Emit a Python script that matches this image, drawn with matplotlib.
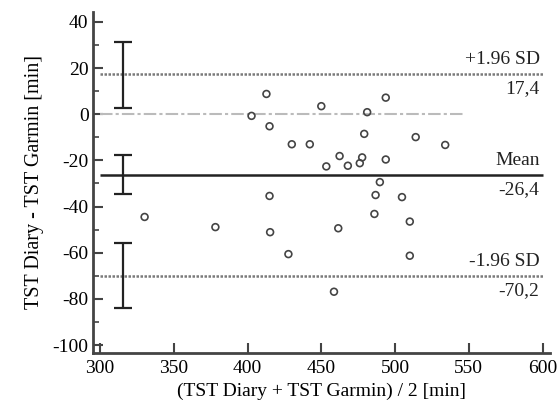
import matplotlib.pyplot as plt

# Bland-Altman data: mean of the two methods vs. difference
mean_tst = [402.7, 412.8, 414.9, 430.0, 442.2, 450.0, 453.4, 462.4, 468.0, 476.1,
            477.7, 479.1, 481.1, 414.9, 493.7, 514.0, 534.0, 493.7, 489.7, 486.8,
            504.7, 330.2, 378.2, 415.3, 427.7, 461.5, 458.6, 486.0, 510.0, 510.0]
diff_tst = [-0.7, 8.8, -5.2, -13.0, -13.0, 3.5, -22.6, -18.1, -22.3, -21.2,
            -18.7, -8.5, 0.9, -35.4, 7.2, -9.9, -13.3, -19.6, -29.4, -35.0,
            -35.9, -44.5, -48.9, -51.1, -60.6, -49.4, -76.9, -43.2, -46.5, -61.3]

bias = -26.4
upper_loa = 17.4
lower_loa = -70.2
# 95% confidence intervals of the limits
ci_x = 315.5
ci_low = [2.9, -34.7, -84.1]
ci_high = [31.4, -17.8, -55.6]

plt.rcParams['font.family'] = ['Liberation Serif', 'DejaVu Serif']
plt.rcParams['axes.unicode_minus'] = False

fig = plt.figure(figsize=(5.6, 4.13), dpi=100)
ax = fig.add_axes([0.1655, 0.145, 0.8165, 0.827])

ax.hlines(0, 300, 546, colors='#bbbbbb', linestyles=(0, (6, 1.5, 1.5, 1.5)), linewidth=1.5)
ax.hlines([upper_loa, lower_loa], 300, 600, colors='#7a7a7a', linestyles=(0, (1, 0.6)), linewidth=1.8)
ax.hlines(bias, 300, 600, colors='#222222', linewidth=1.8)

for lo, hi in zip(ci_low, ci_high):
    ax.vlines(ci_x, lo, hi, colors='#222222', linewidth=1.6)
    ax.hlines([lo, hi], ci_x - 6, ci_x + 6, colors='#222222', linewidth=1.6)

ax.scatter(mean_tst, diff_tst, s=24, facecolors='none', edgecolors='#444444', linewidths=1.2, zorder=3)

lbl = dict(ha='right', fontsize=14, color='#222222')
ax.text(598, upper_loa + 2.5, '+1.96 SD', va='bottom', **lbl)
ax.text(598, upper_loa - 2.5, '17,4', va='top', **lbl)
ax.text(598, bias + 2.5, 'Mean', va='bottom', **lbl)
ax.text(598, bias - 2.5, '-26,4', va='top', **lbl)
ax.text(598, lower_loa + 2.5, '-1.96 SD', va='bottom', **lbl)
ax.text(598, lower_loa - 2.5, '-70,2', va='top', **lbl)

ax.set_xlim(295, 605)
ax.set_ylim(-103.5, 44.5)
ax.set_xticks(range(300, 601, 50))
ax.set_yticks(range(-100, 41, 20))
ax.set_yticks(range(-90, 41, 20), minor=True)

for s in ['top', 'right']:
    ax.spines[s].set_visible(False)
for s in ['left', 'bottom']:
    ax.spines[s].set_linewidth(2)
    ax.spines[s].set_color('#444444')

ax.tick_params(which='major', direction='in', length=7, width=1.5, color='#444444', labelsize=14, pad=3)
ax.tick_params(which='minor', direction='in', length=4, width=1.2, color='#444444')
ax.tick_params(axis='x', which='major', pad=5)

ax.set_xlabel('(TST Diary + TST Garmin) / 2 [min]', fontsize=14, labelpad=4)
ax.set_ylabel('TST Diary - TST Garmin [min]', fontsize=14.5, labelpad=6)

fig.savefig('out.png', dpi=100)
